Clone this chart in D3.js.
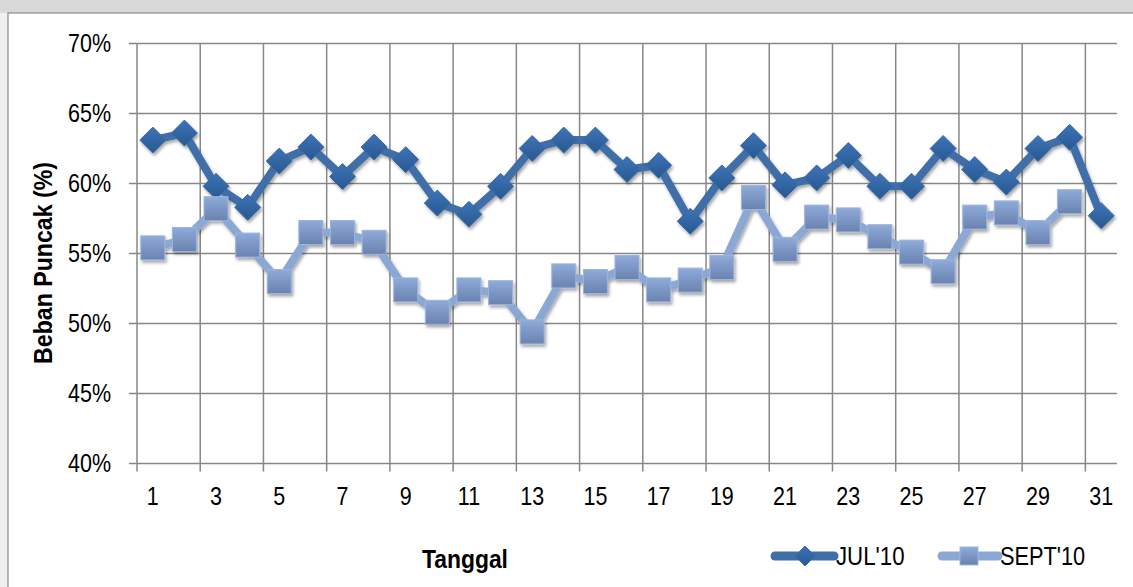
<!DOCTYPE html>
<html><head><meta charset="utf-8">
<script src="https://cdn.jsdelivr.net/npm/d3@7"></script>
<style>
html,body{margin:0;padding:0;background:#fff;}
svg{display:block;}
text{font-family:"Liberation Sans Narrow","Arial Narrow","Liberation Sans",Arial,sans-serif;fill:#000;}
</style></head>
<body>
<svg id="chart" width="1133" height="587"></svg>
<script>
const days = d3.range(1, 32);
const julValues = [63.1,63.6,59.8,58.3,61.6,62.6,60.5,62.6,61.7,58.6,57.8,59.8,62.5,63.1,63.1,61.0,61.3,57.3,60.4,62.7,59.9,60.4,62.0,59.8,59.8,62.5,61.0,60.1,62.5,63.3,57.7];
const septValues = [55.4,56.0,58.2,55.6,53.0,56.5,56.5,55.8,52.4,50.8,52.4,52.2,49.4,53.4,53.0,54.0,52.4,53.1,54.0,59.0,55.3,57.6,57.4,56.2,55.1,53.7,57.6,57.9,56.5,58.7];
const yTicks = [40,45,50,55,60,65,70];
const xTickLabels = days.filter(d => d % 2 === 1);
const seriesNames = ["JUL'10", "SEPT'10"];

const svg = d3.select("#chart");
const defs = svg.append("defs");
const sh = defs.append("filter").attr("id","shadow").attr("x","-50%").attr("y","-50%").attr("width","200%").attr("height","200%");
sh.append("feDropShadow").attr("dx",1.5).attr("dy",2.5).attr("stdDeviation",1.6).attr("flood-color","#000").attr("flood-opacity",0.35);

const gJ = defs.append("linearGradient").attr("id","gJul").attr("x1",0).attr("y1",0).attr("x2",0).attr("y2",1);
gJ.append("stop").attr("offset","0%").attr("stop-color","#3c74b8");
gJ.append("stop").attr("offset","100%").attr("stop-color","#285890");
const gS = defs.append("linearGradient").attr("id","gSept").attr("x1",0).attr("y1",0).attr("x2",0).attr("y2",1);
gS.append("stop").attr("offset","0%").attr("stop-color","#8eabd9");
gS.append("stop").attr("offset","100%").attr("stop-color","#6a82b0");

svg.append("rect").attr("x",0).attr("y",0).attr("width",1133).attr("height",13).attr("fill","#d9d9d9");
svg.append("rect").attr("x",0).attr("y",13).attr("width",8).attr("height",574).attr("fill","#f0f0f0");
svg.append("rect").attr("x",8).attr("y",13).attr("width",1140).attr("height",600).attr("fill","#fff").attr("stroke","#8a8a8a").attr("stroke-width",1.2);

const pLeft = 137, pRight = 1117, pTop = 43.5, pBottom = 463.5;
const x = d3.scaleBand().domain(days).range([pLeft, pRight]);
const y = d3.scaleLinear().domain([40,70]).range([pBottom, pTop]);

const grid = svg.append("g");
grid.selectAll("line.h").data(yTicks).join("line")
  .attr("x1", pLeft - 8).attr("x2", pRight)
  .attr("y1", d => y(d)).attr("y2", d => y(d))
  .attr("stroke","#878787").attr("stroke-width",1.5);
const vIdx = d3.range(0, 31, 2);
grid.selectAll("line.v").data(vIdx).join("line")
  .attr("x1", i => x(days[i])).attr("x2", i => x(days[i]))
  .attr("y1", pTop).attr("y2", pBottom + 8)
  .attr("stroke","#878787").attr("stroke-width",1.5);

const ntext = (sel, tx, ty, sx, rot) => sel
  .attr("transform", (d,i) => `translate(${typeof tx === "function" ? tx(d,i) : tx},${typeof ty === "function" ? ty(d,i) : ty})${rot ? " rotate(" + rot + ")" : ""} scale(${sx},1)`);

ntext(svg.selectAll("text.yt").data(yTicks).join("text"),
      111, d => y(d) + 8.5, 0.86)
  .attr("text-anchor","end").attr("font-size", 25)
  .text(d => d + "%");

ntext(svg.selectAll("text.xt").data(xTickLabels).join("text"),
      d => x(d) + x.bandwidth()/2, 505, 0.86)
  .attr("text-anchor","middle").attr("font-size", 25)
  .text(d => d);

ntext(svg.append("text"), 52, 263, 0.89, -90)
  .attr("text-anchor","middle").attr("font-size",26).attr("font-weight","bold")
  .text("Beban Puncak (%)");
ntext(svg.append("text"), 465, 568, 0.88)
  .attr("text-anchor","middle").attr("font-size",26).attr("font-weight","bold")
  .text("Tanggal");

const cx = d => x(d) + x.bandwidth()/2;
const line = d3.line().x((v,i) => cx(days[i])).y(v => y(v));

const jul = svg.append("g").attr("filter","url(#shadow)");
jul.append("path").attr("d", line(julValues)).attr("fill","none")
  .attr("stroke","#3f6ea8").attr("stroke-width",8).attr("stroke-linejoin","round");
const sept = svg.append("g").attr("filter","url(#shadow)");
sept.append("path").attr("d", line(septValues)).attr("fill","none")
  .attr("stroke","#8ba8d5").attr("stroke-width",8).attr("stroke-linejoin","round");

const diamond = (g, px, py, r) => g.append("path")
  .attr("d", `M${px},${py-r}L${px+r},${py}L${px},${py+r}L${px-r},${py}Z`)
  .attr("fill","url(#gJul)").attr("stroke","#3a6aa6").attr("stroke-width",1);
const square = (g, px, py, s) => g.append("rect")
  .attr("x", px - s/2).attr("y", py - s/2).attr("width", s).attr("height", s)
  .attr("fill","url(#gSept)").attr("stroke","#9db5dd").attr("stroke-width",1);

septValues.forEach((v,i) => square(sept, cx(days[i]), y(v), 24));
julValues.forEach((v,i) => diamond(jul, cx(days[i]), y(v), 13));

const lg = svg.append("g");
const lj = lg.append("g");
lj.append("line").attr("x1",775).attr("x2",834).attr("y1",556).attr("y2",556)
  .attr("stroke","#3f6ea8").attr("stroke-width",9).attr("stroke-linecap","round");
diamond(lj, 805, 556, 10);
ntext(lg.append("text"), 836, 565, 0.89).attr("font-size",25).text(seriesNames[0]);
const ls = lg.append("g");
ls.append("line").attr("x1",942).attr("x2",998).attr("y1",556).attr("y2",556)
  .attr("stroke","#8ba8d5").attr("stroke-width",9).attr("stroke-linecap","round");
square(ls, 969, 556, 18);
ntext(lg.append("text"), 1000, 565, 0.87).attr("font-size",25).text(seriesNames[1]);
</script>
</body></html>
